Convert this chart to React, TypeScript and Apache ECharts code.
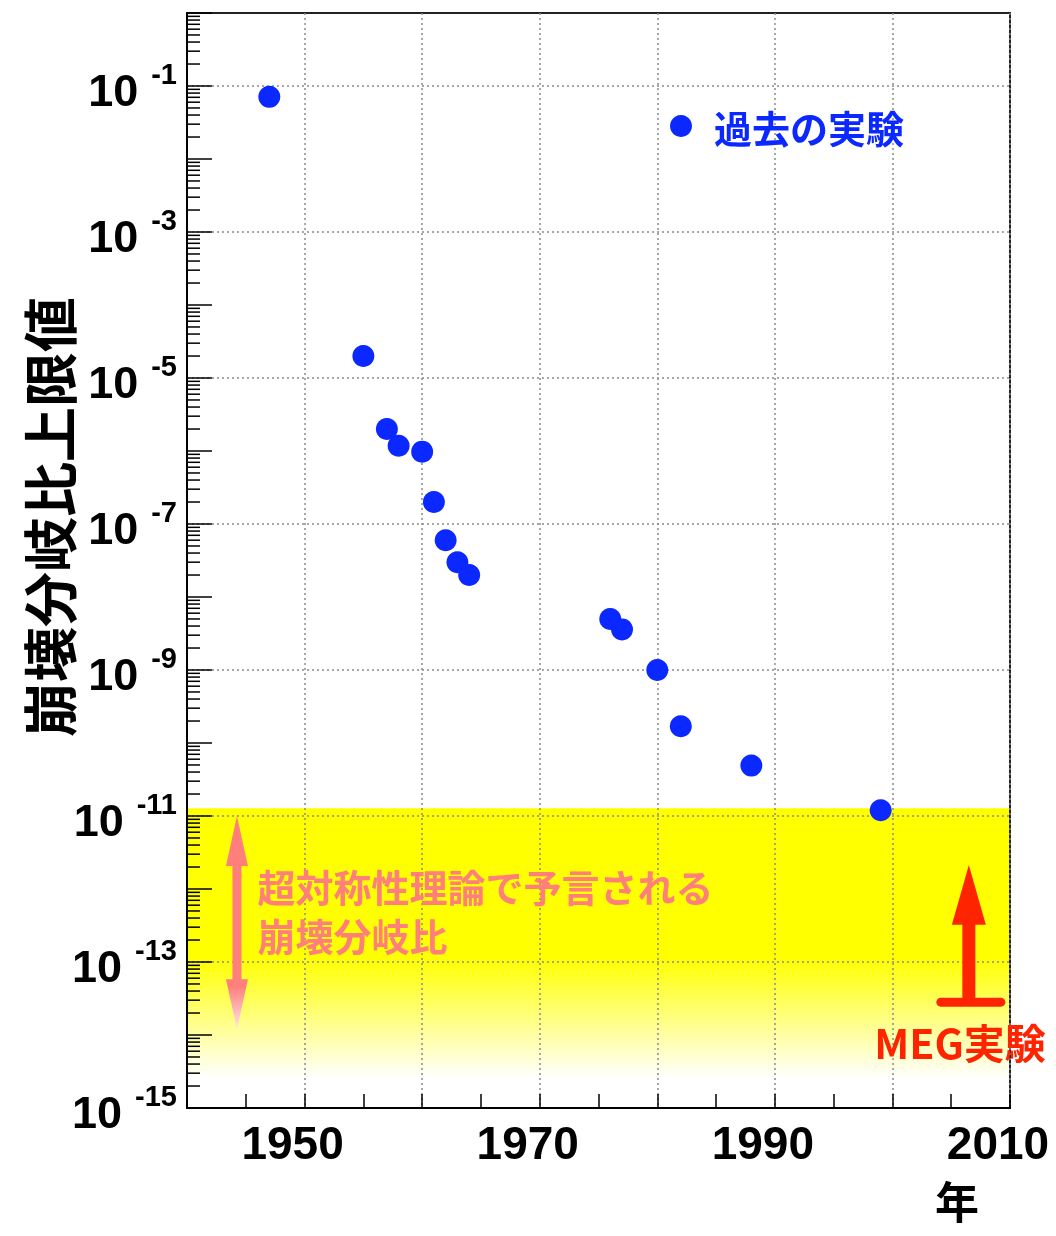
import React, { useEffect, useRef } from 'react';
import * as echarts from 'echarts';

// Past experiments: year and upper limit of the branching ratio
const years = [1947, 1955, 1957, 1958, 1960, 1961, 1962, 1963, 1964, 1976, 1977, 1980, 1982, 1988, 1999];
const limits = [7.1e-2, 2.0e-5, 2.0e-6, 1.18e-6, 9.8e-7, 2.0e-7, 6.0e-8, 3.0e-8, 2.0e-8, 5.0e-9, 3.6e-9, 1.0e-9, 1.7e-10, 4.9e-11, 1.2e-11];

// Axis ranges
const xRange = [1940, 2010];
const yRange = [1e-15, 1];
const xLabelYears = [1950, 1970, 1990, 2010];

// SUSY predicted band (upper bound down to the bottom of the plot)
const bandX = [1940, 2010];
const bandY = [1.28e-11, 1e-15];

// minor tick mantissas for the log axis
const minorMantissas = [2, 3, 4, 5, 6, 7, 8, 9];
const minorDecades = [-15, -14, -13, -12, -11, -10, -9, -8, -7, -6, -5, -4, -3, -2, -1];

// Annotation anchors (data units)
const pinkArrow = { x: 1944.25, top: 1e-11, bottom: 1.2e-14 };
const pinkText = { x: 1946.0, line1: Math.pow(10, -11.95), line2: Math.pow(10, -12.63) };
const redArrow = { x: 2006.5, tip: Math.pow(10, -11.67), headBase: Math.pow(10, -12.49), bar: Math.pow(10, -13.55) };
const megText = { x: 2005.75, y: Math.pow(10, -14.08) };

const LAT = '"Liberation Sans", Arial, Helvetica, sans-serif';
const CJK = '"Noto Sans CJK JP", "Noto Sans", sans-serif';
const BLUE = '#0a28ff';
const PINK = '#ff7f7b';
const RED = '#ff2400';

const points = years.map((y, i) => [y, limits[i]]);
const minorTicks: number[][] = [];
minorDecades.forEach((d) => minorMantissas.forEach((m) => minorTicks.push([xRange[0], m * Math.pow(10, d)])));

export default function App() {
  const ref = useRef<HTMLDivElement>(null);
  useEffect(() => {
    const chart = echarts.init(ref.current!, null, { renderer: 'svg' });
    const option: any = {
      animation: false,
      grid: {
        left: 187, right: 46, top: 13, bottom: 128,
        show: true, borderColor: '#222', borderWidth: 2, backgroundColor: 'transparent',
      },
      legend: {
        left: 665, top: 102,
        data: ['過去の実験'],
        icon: 'circle', itemWidth: 22, itemHeight: 22,
        textStyle: { color: BLUE, fontSize: 38, fontWeight: 'bold', fontFamily: CJK, lineHeight: 38, padding: [0, 0, 0, 17] },
        selectedMode: false,
      },
      xAxis: {
        type: 'value', min: xRange[0], max: xRange[1], interval: 5,
        axisLine: { lineStyle: { color: '#000', width: 2 } },
        axisTick: { inside: true, length: 14, lineStyle: { color: '#000', width: 1.5 } },
        axisLabel: {
          margin: 12, color: '#000', fontSize: 46, fontWeight: 'bold', fontFamily: LAT,
          padding: [0, 24, 0, 0], showMaxLabel: true, showMinLabel: true,
          formatter: (v: number) => (xLabelYears.indexOf(Math.round(v)) >= 0 ? String(Math.round(v)) : ''),
        },
        splitLine: { show: true, lineStyle: { color: ['#8a8a8a', 'transparent'], type: [2, 3], width: 1.5 } },
      },
      yAxis: {
        type: 'log', logBase: 10, min: yRange[0], max: yRange[1], interval: 1,
        axisLine: { lineStyle: { color: '#000', width: 2 } },
        axisTick: { inside: true, length: 25, lineStyle: { color: '#000', width: 1.5 } },
        axisLabel: {
          margin: 10, color: '#000', showMaxLabel: true, showMinLabel: true,
          formatter: (v: number) => {
            const e = Math.round(Math.log10(v));
            if (e % 2 === 0) return '';
            return `{b|10}{s|${e}}`;
          },
          rich: {
            b: { fontSize: 45, fontWeight: 'bold', fontFamily: LAT, color: '#000', lineHeight: 45, padding: [8, 0, 0, 0] },
            s: { fontSize: 29, fontWeight: 'bold', fontFamily: LAT, color: '#000', padding: [0, 0, 24, 13] },
          },
        },
        splitLine: { show: true, lineStyle: { color: ['#8a8a8a', 'transparent'], type: [2, 3], width: 1.5 } },
      },
      series: [
        {
          type: 'custom', name: 'band', z: -1, silent: true,
          data: [[bandX[0], bandY[0], bandX[1], bandY[1]]],
          encode: { x: [0, 2], y: [1, 3] },
          renderItem: (_p: any, api: any) => {
            const a = api.coord([api.value(0), api.value(1)]);
            const b = api.coord([api.value(2), api.value(3)]);
            return {
              type: 'rect',
              shape: { x: a[0], y: a[1], width: b[0] - a[0], height: b[1] - a[1] },
              style: {
                fill: new echarts.graphic.LinearGradient(0, 0, 0, 1, [
                  { offset: 0, color: '#ffff00' },
                  { offset: 0.5, color: '#ffff00' },
                  { offset: 0.9, color: '#ffffff' },
                  { offset: 1, color: '#ffffff' },
                ]),
              },
            };
          },
        },
        {
          type: 'custom', name: 'minor', z: 3, silent: true,
          data: minorTicks,
          renderItem: (_p: any, api: any) => {
            const p = api.coord([api.value(0), api.value(1)]);
            return { type: 'line', shape: { x1: p[0], y1: p[1], x2: p[0] + 13, y2: p[1] }, style: { stroke: '#000', lineWidth: 1.5 } };
          },
        },
        {
          type: 'scatter', name: '過去の実験', z: 4,
          data: points, symbol: 'circle', symbolSize: 22,
          itemStyle: { color: BLUE, opacity: 1 },
        },
      ],
    };
    chart.setOption(option);

    const px = (x: number, y: number) => chart.convertToPixel({ gridIndex: 0 }, [x, y]) as number[];
    const pt = px(pinkArrow.x, pinkArrow.top);
    const pb = px(pinkArrow.x, pinkArrow.bottom);
    const hx = 11, sx = 4.5, hl = 50;
    const pinkPoly = [
      [pt[0], pt[1]], [pt[0] + hx, pt[1] + hl], [pt[0] + sx, pt[1] + hl], [pt[0] + sx, pb[1] - hl],
      [pt[0] + hx, pb[1] - hl], [pt[0], pb[1]], [pt[0] - hx, pb[1] - hl], [pt[0] - sx, pb[1] - hl],
      [pt[0] - sx, pt[1] + hl], [pt[0] - hx, pt[1] + hl],
    ];
    const t1 = px(pinkText.x, pinkText.line1);
    const t2 = px(pinkText.x, pinkText.line2);
    const rt = px(redArrow.x, redArrow.tip);
    const rh = px(redArrow.x, redArrow.headBase);
    const rb = px(redArrow.x, redArrow.bar);
    const rhx = 17, rsx = 6.5;
    const redPoly = [
      [rt[0], rt[1]], [rt[0] + rhx, rh[1]], [rt[0] + rsx, rh[1]], [rt[0] + rsx, rb[1]],
      [rt[0] - rsx, rb[1]], [rt[0] - rsx, rh[1]], [rt[0] - rhx, rh[1]],
    ];
    const mt = px(megText.x, megText.y);

    chart.setOption({
      graphic: [
        {
          type: 'polygon', shape: { points: pinkPoly }, z: 50,
          style: {
            fill: new echarts.graphic.LinearGradient(0, 0, 0, 1, [
              { offset: 0, color: PINK },
              { offset: 0.8, color: PINK },
              { offset: 1, color: 'rgba(255,230,235,1)' },
            ]),
          },
        },
        {
          type: 'text', x: t1[0], y: t1[1], z: 50,
          style: { text: '超対称性理論で予言される', fill: PINK, fontSize: 38, fontWeight: 'bold', fontFamily: CJK, verticalAlign: 'middle', align: 'left' },
        },
        {
          type: 'text', x: t2[0], y: t2[1], z: 50,
          style: { text: '崩壊分岐比', fill: PINK, fontSize: 38, fontWeight: 'bold', fontFamily: CJK, verticalAlign: 'middle', align: 'left' },
        },
        { type: 'polygon', shape: { points: redPoly }, z: 50, style: { fill: RED } },
        {
          type: 'line', z: 50,
          shape: { x1: rt[0] - 28, y1: rb[1], x2: rt[0] + 32, y2: rb[1] },
          style: { stroke: RED, lineWidth: 9, lineCap: 'round' },
        },
        {
          type: 'text', x: mt[0], y: mt[1], z: 50,
          style: { text: 'MEG実験', fill: RED, fontSize: 41, fontWeight: 'bold', fontFamily: CJK, verticalAlign: 'middle', align: 'center' },
        },
        {
          type: 'text', x: 47, y: 517, rotation: Math.PI / 2, z: 50,
          style: { text: '崩壊分岐比上限値', fill: '#000', fontSize: 55, fontWeight: 'bold', fontFamily: CJK, verticalAlign: 'middle', align: 'center' },
        },
        {
          type: 'text', x: 957, y: 1200, z: 50,
          style: { text: '年', fill: '#000', fontSize: 44, fontWeight: 'bold', fontFamily: CJK, verticalAlign: 'middle', align: 'center' },
        },
      ],
    });
    return () => chart.dispose();
  }, []);
  return <div ref={ref} style={{ position: 'fixed', left: 0, top: 0, width: 1056, height: 1236 }} />;
}
